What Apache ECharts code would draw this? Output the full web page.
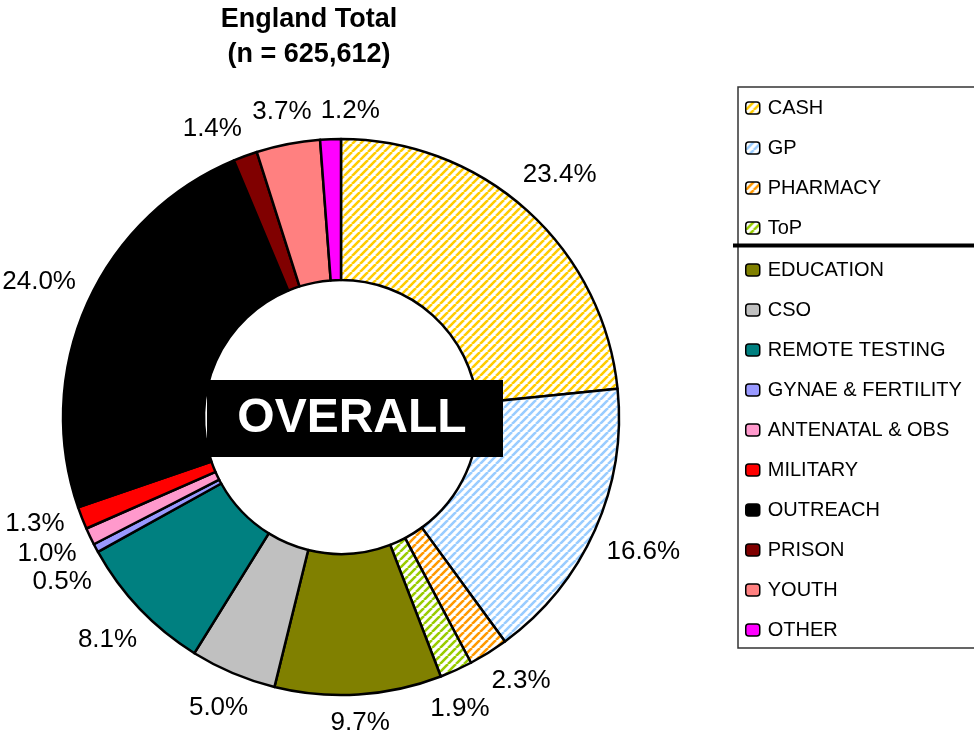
<!DOCTYPE html>
<html>
<head>
<meta charset="utf-8">
<script src="https://cdn.jsdelivr.net/npm/echarts@6/dist/echarts.min.js"></script>
<style>
  html, body { margin: 0; padding: 0; background: #fff; }
  #chart { width: 974px; height: 738px; }
</style>
</head>
<body>
<div id="chart"></div>
<script>
const categories = ['CASH', 'GP', 'PHARMACY', 'ToP', 'EDUCATION', 'CSO', 'REMOTE TESTING',
  'GYNAE & FERTILITY', 'ANTENATAL & OBS', 'MILITARY', 'OUTREACH', 'PRISON', 'YOUTH', 'OTHER'];
const shares = [23.4, 16.6, 2.3, 1.9, 9.7, 5.0, 8.1, 0.5, 1.0, 1.3, 24.0, 1.4, 3.7, 1.2];
const legendTop = categories.slice(0, 4);
const legendBottom = categories.slice(4);
const titleLines = ['England Total', '(n = 625,612)'];
const centreText = 'OVERALL';

// styles
const sliceColors = ['#FFCC00', '#99CCFF', '#FF9900', '#99CC00', '#808000', '#C0C0C0', '#008080',
  '#9999FF', '#FF99CC', '#FF0000', '#000000', '#800000', '#FF8080', '#FF00FF'];
const hatched = [true, true, true, true, false, false, false, false, false, false, false, false, false, false];

const CX = 341, CY = 417, R_IN = 137, R_OUT = 278, GAP = 14;
const FONT = '"Liberation Sans", Arial, sans-serif';
const LABEL_PX = 26;

function stripes(color) {
  const c = document.createElement('canvas');
  c.width = c.height = 8;
  const g = c.getContext('2d');
  g.fillStyle = '#fff';
  g.fillRect(0, 0, 8, 8);
  g.strokeStyle = color;
  g.lineWidth = 2.6;
  g.beginPath();
  [-8, 0, 8].forEach(o => { g.moveTo(o, 8); g.lineTo(o + 8, 0); });
  g.stroke();
  return { image: c, repeat: 'repeat' };
}

// label placement: on each slice's mid ray just outside the ring,
// then nudge neighbours apart along the circle until they stop overlapping
const fmt = v => v.toFixed(1) + '%';
const total = shares.reduce((a, b) => a + b, 0);
const ang = [];
let acc = 0;
shares.forEach(v => { ang.push((acc + v / 2) / total * 2 * Math.PI); acc += v; });

const mctx = document.createElement('canvas').getContext('2d');
mctx.font = LABEL_PX + 'px ' + FONT;
const boxW = shares.map(v => mctx.measureText(fmt(v)).width);
const boxH = LABEL_PX;

function spot(i) {
  const sx = Math.sin(ang[i]), sy = -Math.cos(ang[i]);
  const r = R_OUT + GAP + Math.abs(sx) * boxW[i] / 2 + Math.abs(sy) * boxH / 2;
  return [CX + sx * r, CY + sy * r];
}
for (let it = 0; it < 400; it++) {
  let moved = false;
  for (let i = 0; i < shares.length; i++) {
    const j = (i + 1) % shares.length;
    const a = spot(i), b = spot(j);
    if (Math.abs(a[0] - b[0]) < (boxW[i] + boxW[j]) / 2 + 8 && Math.abs(a[1] - b[1]) < boxH + 2) {
      ang[i] -= 0.004;
      ang[j] += 0.004;
      moved = true;
    }
  }
  if (!moved) break;
}
const labelPos = shares.map((v, i) => spot(i));

const chart = echarts.init(document.getElementById('chart'));

const legendText = { fontFamily: FONT, fontSize: 20, lineHeight: 20, color: '#000', padding: [0, 0, 0, 3] };

const option = {
  backgroundColor: '#fff',
  animation: false,
  legend: [
    {
      data: legendTop, orient: 'vertical', left: 745, top: 98, padding: 0,
      itemWidth: 14, itemHeight: 12, itemGap: 20,
      itemStyle: { borderColor: '#000', borderWidth: 1.5 },
      textStyle: legendText
    },
    {
      data: legendBottom, orient: 'vertical', left: 745, top: 260, padding: 0,
      itemWidth: 14, itemHeight: 12, itemGap: 20,
      itemStyle: { borderColor: '#000', borderWidth: 1.5 },
      textStyle: legendText
    }
  ],
  graphic: [
    { type: 'text', x: 309, y: 20, style: { text: titleLines[0], font: 'bold 27px ' + FONT, fill: '#000', align: 'center', verticalAlign: 'middle' } },
    { type: 'text', x: 309, y: 55, style: { text: titleLines[1], font: 'bold 27px ' + FONT, fill: '#000', align: 'center', verticalAlign: 'middle' } },
    { type: 'rect', z: 100, shape: { x: 207, y: 380, width: 296, height: 77 }, style: { fill: '#000' } },
    { type: 'text', z: 101, x: 352, y: 419, style: { text: centreText, font: 'bold 48px ' + FONT, fill: '#fff', align: 'center', verticalAlign: 'middle' } },
    { type: 'rect', shape: { x: 738, y: 87, width: 260, height: 561 }, style: { fill: 'none', stroke: '#333', lineWidth: 1.5 } },
    { type: 'line', shape: { x1: 733, y1: 245.5, x2: 974, y2: 245.5 }, style: { stroke: '#000', lineWidth: 4 } }
  ],
  series: [{
    type: 'pie',
    center: [CX, CY],
    radius: [R_IN, R_OUT],
    startAngle: 90,
    clockwise: true,
    avoidLabelOverlap: false,
    emphasis: { disabled: true },
    itemStyle: { borderColor: '#000', borderWidth: 2.5 },
    label: {
      show: true, position: 'outside', color: '#000', fontFamily: FONT, fontSize: LABEL_PX,
      formatter: p => fmt(p.value)
    },
    labelLine: { show: false, length: 0, length2: 0 },
    labelLayout: p => ({
      x: labelPos[p.dataIndex][0], y: labelPos[p.dataIndex][1],
      align: 'center', verticalAlign: 'middle', fontSize: LABEL_PX
    }),
    data: categories.map((name, i) => ({
      name: name,
      value: shares[i],
      itemStyle: { color: hatched[i] ? stripes(sliceColors[i]) : sliceColors[i] }
    }))
  }]
};

chart.setOption(option);
</script>
</body>
</html>
